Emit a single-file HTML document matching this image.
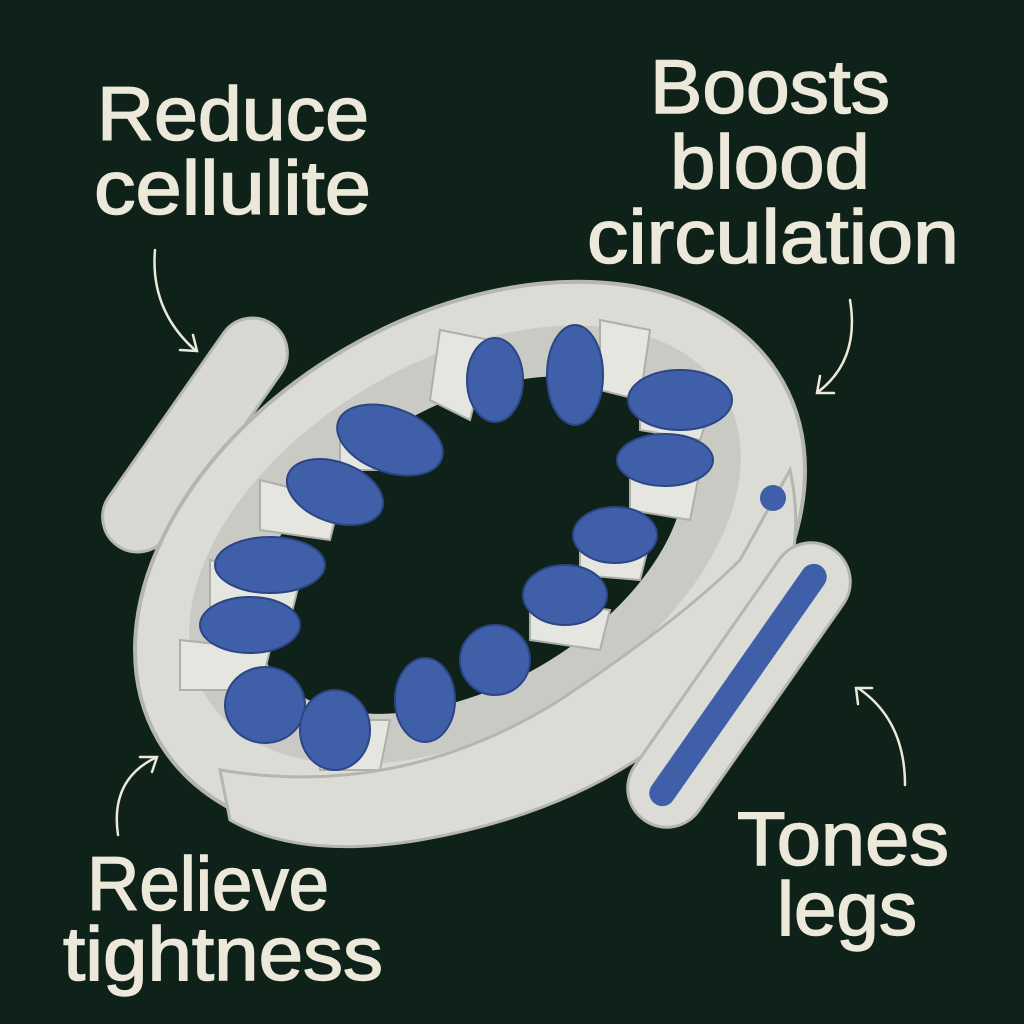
<!DOCTYPE html>
<html><head><meta charset="utf-8"><style>
html,body{margin:0;padding:0;background:#0e2219;}
svg{display:block}
text{font-family:"Liberation Sans","DejaVu Sans",sans-serif;fill:#ece8da;stroke:#ece8da;stroke-width:1.5;font-size:76px}
</style></head><body>
<svg width="1024" height="1024" viewBox="0 0 1024 1024">
<rect width="1024" height="1024" fill="#0e2219"/>
<text x="97" y="140" textLength="272" lengthAdjust="spacingAndGlyphs">Reduce</text>
<text x="94" y="214" textLength="277" lengthAdjust="spacingAndGlyphs">cellulite</text>
<text x="650" y="113" textLength="240" lengthAdjust="spacingAndGlyphs">Boosts</text>
<text x="670" y="188" textLength="200" lengthAdjust="spacingAndGlyphs">blood</text>
<text x="587" y="263" textLength="372" lengthAdjust="spacingAndGlyphs">circulation</text>
<text x="87" y="910" textLength="242" lengthAdjust="spacingAndGlyphs">Relieve</text>
<text x="63" y="980" textLength="320" lengthAdjust="spacingAndGlyphs">tightness</text>
<text x="737" y="865" textLength="212" lengthAdjust="spacingAndGlyphs">Tones</text>
<text x="777" y="935" textLength="140" lengthAdjust="spacingAndGlyphs">legs</text>

<g fill="none" stroke="#ece8da" stroke-width="2.5" stroke-linecap="round">
<path d="M155 250 Q150 310 195 350"/><path d="M180 350 L197 351 L193 335"/>
<path d="M850 300 Q860 360 818 392"/><path d="M820 376 L817 393 L834 393"/>
<path d="M118 835 Q110 780 155 758"/><path d="M140 757 L157 757 L152 772"/>
<path d="M905 785 Q905 720 858 688"/><path d="M858 704 L856 688 L872 688"/>
</g>

<rect x="160" y="300" width="70" height="270" rx="35" fill="#d9d9d3" stroke="#b8b8b2" stroke-width="3" transform="rotate(35 195 435)"/>
<ellipse cx="470" cy="560" rx="360" ry="245" transform="rotate(-30 470 560)" fill="#dcdcd6" stroke="#b5b6b0" stroke-width="4"/>
<ellipse cx="465" cy="545" rx="300" ry="185" transform="rotate(-30 465 545)" fill="#c9cac4"/>
<ellipse cx="470" cy="545" rx="235" ry="140" transform="rotate(-30 470 545)" fill="#0e2219"/>

<g>
<g fill="#e6e6e0" stroke="#aeafa9" stroke-width="2">
<polygon points="440,330 490,340 470,420 430,400"/>
<polygon points="600,320 650,330 640,400 600,390"/>
<polygon points="640,380 720,380 700,440 640,430"/>
<polygon points="630,470 700,470 690,520 630,510"/>
<polygon points="340,420 420,430 410,470 340,470"/>
<polygon points="260,480 340,500 330,540 260,530"/>
<polygon points="210,560 300,580 290,620 210,610"/>
<polygon points="180,640 270,650 260,690 180,690"/>
<polygon points="320,720 390,720 380,770 320,770"/>
<polygon points="530,600 610,610 600,650 530,640"/>
<polygon points="580,540 650,540 640,580 580,575"/>
</g>
<g fill="#3f5fa8" stroke="#2c4585" stroke-width="2">
<ellipse cx="495" cy="380" rx="28" ry="42"/>
<ellipse cx="575" cy="375" rx="28" ry="50"/>
<ellipse cx="680" cy="400" rx="52" ry="30"/>
<ellipse cx="665" cy="460" rx="48" ry="26"/>
<ellipse cx="390" cy="440" rx="55" ry="32" transform="rotate(20 390 440)"/>
<ellipse cx="335" cy="492" rx="50" ry="30" transform="rotate(20 335 492)"/>
<ellipse cx="270" cy="565" rx="55" ry="28"/>
<ellipse cx="250" cy="625" rx="50" ry="28"/>
<ellipse cx="265" cy="705" rx="40" ry="38"/>
<ellipse cx="335" cy="730" rx="35" ry="40"/>
<ellipse cx="425" cy="700" rx="30" ry="42"/>
<ellipse cx="495" cy="660" rx="35" ry="35"/>
<ellipse cx="565" cy="595" rx="42" ry="30"/>
<ellipse cx="615" cy="535" rx="42" ry="28"/>
</g>
</g>
<path d="M220 770 Q400 800 560 700 Q680 620 740 560 L790 470 Q810 560 760 640 Q650 800 420 840 Q300 860 230 820 Z" fill="#dcdcd6" stroke="#b5b6b0" stroke-width="3"/>
<circle cx="773" cy="498" r="13" fill="#3f5fa8"/>
<rect x="700" y="520" width="78" height="330" rx="39" fill="#dcdcd6" stroke="#b5b6b0" stroke-width="3" transform="rotate(35 739 685)"/>
<rect x="725" y="540" width="26" height="290" rx="13" fill="#3f5fa8" transform="rotate(35 738 685)"/>
</svg>
</body></html>
